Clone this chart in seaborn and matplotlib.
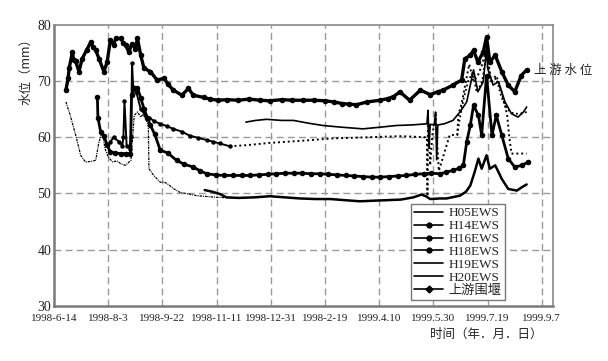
import matplotlib
matplotlib.use("Agg")
import matplotlib.pyplot as plt
from matplotlib.lines import Line2D
import seaborn as sns
import pandas as pd

# ---- data (x = days since 1998-06-14, y = water level) ----
tick_days = [0, 50, 100, 150, 200, 250, 300, 350, 400, 450]
tick_labels = ["1998-6-14", "1998-8-3", "1998-9-22", "1998-11-11", "1998-12-31",
               "1998-2-19", "1999.4.10", "1999.5.30", "1999.7.19", "1999.9.7"]
y_ticks = [30, 40, 50, 60, 70, 80]

legend_labels = ["H05EWS", "H14EWS", "H16EWS", "H18EWS", "H19EWS", "H20EWS", "上游围堰"]

# 上游围堰
A_days = [11, 13, 14, 17, 18, 20, 23, 26, 30, 34,
          36, 38.5, 41.5, 46, 49, 52, 55, 57, 61.5, 64,
          66, 69, 72, 75, 77, 80, 83, 89, 95, 101.5,
          105, 110, 118, 124, 128.5, 138, 144, 151, 160, 170,
          180, 190, 199, 210, 220, 230, 240, 250, 258, 266,
          272, 279, 289, 301, 308, 313, 319, 328, 338, 347,
          354, 359, 368, 376, 379, 384, 387, 391, 396, 399,
          402, 407, 413, 419, 425, 431, 436]
A_vals = [68.4, 70.5, 72.3, 75.2, 73.8, 73.5, 71.7, 74.0, 75.5, 77.0,
          76.0, 75.5, 74.0, 71.7, 73.4, 77.3, 76.5, 77.6, 77.6, 76.8,
          76.4, 75.2, 76.7, 75.8, 77.6, 74.6, 72.3, 71.7, 70.2, 70.5,
          69.5, 68.4, 67.5, 68.7, 67.5, 67.1, 66.8, 66.6, 66.7, 66.6,
          66.8, 66.6, 66.5, 66.7, 66.6, 66.6, 66.6, 66.5, 66.3, 66.0,
          65.9, 65.8, 66.3, 66.6, 66.9, 67.2, 68.1, 66.6, 68.4, 67.6,
          68.1, 68.4, 69.3, 70.2, 74.0, 74.6, 75.5, 73.4, 75.2, 77.9,
          73.4, 74.6, 71.7, 69.3, 68.1, 71.0, 72.0]

# H19EWS
B_days = [177, 186, 196, 210, 221, 235, 248, 265, 285, 301,
          316, 330, 344, 345, 346, 347, 351, 352, 353, 354,
          360, 368, 374.5, 380.7, 387, 391, 396, 399, 400, 405,
          410, 416, 422, 428, 433, 436]
B_vals = [62.7, 63.0, 63.2, 63.0, 63.0, 62.5, 62.1, 61.8, 61.5, 61.8,
          62.1, 62.2, 62.4, 64.8, 58.0, 62.3, 62.2, 64.5, 56.0, 62.2,
          62.4, 63.0, 64.5, 66.3, 72.0, 68.1, 69.9, 76.0, 72.3, 69.3,
          69.9, 66.3, 64.2, 63.6, 64.5, 65.4]

# H14EWS
C_days = [52, 55, 60, 63, 64, 65, 67, 70, 71, 72,
          73, 76, 80, 84, 88, 92, 98, 104, 110, 118,
          125, 133, 141, 147, 153, 162, 178, 199, 230, 257,
          290, 319, 344, 344.5, 345, 347, 349, 352, 355, 365,
          372, 373, 376, 379, 383, 387, 391, 395, 399, 403,
          408, 413, 418, 420, 422, 436]
C_vals = [59.2, 60.0, 59.2, 58.5, 60.0, 66.4, 58.5, 58.0, 60.0, 73.2,
          69.0, 68.0, 65.0, 64.0, 63.5, 62.9, 62.4, 62.0, 61.5, 61.0,
          60.3, 59.9, 59.5, 59.2, 58.9, 58.4, 58.6, 59.0, 59.4, 59.8,
          60.0, 60.2, 60.0, 49.5, 63.5, 55.0, 60.4, 64.0, 54.0, 60.4,
          60.4, 64.0, 66.0, 69.0, 73.0, 70.0, 71.0, 73.0, 76.0, 70.0,
          71.0, 68.0, 64.0, 60.0, 57.1, 57.1]

# H16EWS
D_days = [40, 40.5, 43, 46, 49, 52, 56, 61.5, 66, 70.5,
          71.5, 74, 77, 80, 83, 86, 89, 93, 98, 105,
          113, 120, 128.5, 135, 141, 149, 157, 165, 173, 181,
          189, 197, 205, 213, 221, 229, 237, 245, 253, 261,
          269, 277, 285, 293, 301, 309, 317, 325, 333, 341,
          348, 356, 362, 368, 374, 377.6, 380.7, 384, 387, 391.5,
          394.5, 399, 404, 408, 413, 419, 425, 431.5, 437.5]
D_vals = [67.2, 63.5, 61.0, 60.3, 58.6, 57.4, 57.2, 57.1, 57.1, 57.1,
          67.5, 68.8, 68.8, 67.0, 65.1, 63.5, 62.1, 60.5, 57.7, 57.2,
          55.9, 55.2, 54.7, 54.0, 53.5, 53.3, 53.2, 53.2, 53.2, 53.2,
          53.3, 53.4, 53.5, 53.6, 53.6, 53.6, 53.5, 53.5, 53.4, 53.3,
          53.2, 53.1, 53.0, 52.9, 52.9, 53.0, 53.1, 53.2, 53.4, 53.5,
          53.6, 53.5, 53.8, 54.1, 54.5, 55.0, 59.2, 62.1, 65.7, 63.9,
          60.4, 71.0, 60.4, 63.9, 60.4, 56.2, 54.7, 55.0, 55.6]

# H05EWS
E_days = [139, 146, 153, 159, 170, 185, 199, 213, 227, 241,
          255, 268, 282, 300.7, 320, 331.5, 339, 343, 347, 356,
          362, 374.5, 380, 384, 388, 391.5, 394.5, 399, 402, 407,
          413, 419, 427, 431.5, 436]
E_vals = [50.6, 50.3, 49.9, 49.3, 49.2, 49.3, 49.5, 49.3, 49.1, 49.0,
          49.0, 48.8, 48.6, 48.75, 48.9, 49.3, 49.8, 49.5, 49.0, 49.1,
          49.1, 49.6, 50.3, 51.4, 53.8, 56.2, 54.4, 56.8, 54.4, 55.0,
          52.6, 50.8, 50.5, 51.1, 51.6]

# H20EWS
F_days = [11, 15, 20, 24.6, 29, 34, 38.5, 41.5, 44.6, 47,
          50, 54, 58, 61.5, 66, 71, 74, 77, 80, 83,
          87, 87.6, 92, 98, 101.5, 104, 110.7, 116, 131.6, 144,
          151, 165, 175]
F_vals = [66.3, 63.9, 60.4, 56.8, 55.6, 55.7, 55.9, 59.2, 61.0, 58.0,
          56.5, 55.6, 55.8, 55.3, 55.0, 55.9, 63.9, 64.5, 63.6, 64.3,
          62.0, 54.4, 53.2, 52.0, 52.0, 51.8, 50.8, 50.2, 49.6, 49.4,
          49.3, 49.2, 49.1]

# H18EWS
G_days = [372, 374, 378, 382, 386, 390, 395, 399, 403, 408, 413, 418, 424, 430, 436]
G_vals = [60.4, 63.0, 67.0, 70.0, 71.5, 68.0, 70.0, 75.0, 70.0, 70.5, 67.0, 65.0, 64.2, 64.2, 64.5]

# ---- style ----
sns.set_style("white")
plt.rcParams["font.family"] = ["Liberation Serif", "Noto Sans CJK SC", "DejaVu Sans"]
plt.rcParams["axes.unicode_minus"] = False

fig = plt.figure(figsize=(6.08, 3.61), dpi=100)
ax = fig.add_axes([54 / 608, 1 - 305.7 / 361, (553 - 54) / 608, (305.7 - 25) / 361])

K = "black"
common = dict(ax=ax, color=K, estimator=None, sort=False, legend=False)

sns.lineplot(x=F_days, y=F_vals, linewidth=0.9, linestyle=(0, (2, 0.8, 0.8, 0.8)), **common)
sns.lineplot(x=E_days, y=E_vals, linewidth=1.8, **common)
sns.lineplot(x=C_days[:26], y=C_vals[:26], linewidth=1.4, marker="o", markersize=3.2,
             markeredgewidth=0, **common)
sns.lineplot(x=C_days[25:], y=C_vals[25:], linewidth=1.4, linestyle=(0, (1, 1.5)), **common)
sns.lineplot(x=G_days, y=G_vals, linewidth=1.3, linestyle=(0, (1, 1.5)), **common)
sns.lineplot(x=B_days, y=B_vals, linewidth=1.2, **common)
sns.lineplot(x=D_days, y=D_vals, linewidth=2.0, marker="o", markersize=4,
             markeredgewidth=0, **common)
sns.lineplot(x=A_days, y=A_vals, linewidth=2.4, marker="o", markersize=4,
             markeredgewidth=0, **common)

# axes
ax.set_xlim(0, 460.3)
ax.set_ylim(30, 80)
ax.set_xticks(tick_days)
ax.set_xticklabels(tick_labels, fontsize=8)
ax.set_yticks(y_ticks)
ax.set_yticklabels([str(v) for v in y_ticks], fontsize=10)
ax.tick_params(axis="both", length=0, colors="#222222")
ax.tick_params(axis="x", pad=6)
ax.tick_params(axis="y", pad=2)
ax.set_xlabel("")
ax.set_ylabel("")

for gy in [40, 50, 60, 70]:
    ax.axhline(gy, color="#9a9a9a", lw=1.0, ls=(0, (5, 3)), zorder=0)
for gx in tick_days[1:]:
    ax.axvline(gx, color="#9a9a9a", lw=1.0, ls=(0, (5, 3)), zorder=0)

for side in ["left", "bottom"]:
    ax.spines[side].set_color("#7a7a7a")
    ax.spines[side].set_linewidth(1.8)
for side in ["top", "right"]:
    ax.spines[side].set_color("#8a8a8a")
    ax.spines[side].set_linewidth(1.2)

# legend
handles = [
    Line2D([], [], color=K, lw=1.2),
    Line2D([], [], color=K, lw=1.2, marker="o", markersize=3.5),
    Line2D([], [], color=K, lw=1.2, marker="o", markersize=3.5),
    Line2D([], [], color=K, lw=1.2, marker="o", markersize=3.5),
    Line2D([], [], color=K, lw=1.2),
    Line2D([], [], color=K, lw=1.2),
    Line2D([], [], color=K, lw=1.2, marker="D", markersize=3.5),
]
leg = ax.legend(handles, legend_labels, loc="lower right",
                bbox_to_anchor=((505 - 54) / 499, (305.7 - 300) / 280.7),
                fontsize=9.5, frameon=True, fancybox=False, framealpha=1,
                edgecolor="#777777", handlelength=2.2, handletextpad=0.4,
                labelspacing=0.05, borderpad=0.25, borderaxespad=0)
leg.get_frame().set_linewidth(1.0)

# texts
fig.text(26 / 608, 1 - 68.5 / 361, "水位（mm）", rotation=90, ha="center", va="center",
         fontsize=9, family=["Noto Sans CJK SC", "DejaVu Sans"], color="#222222")
fig.text(486 / 608, 1 - 334 / 361, "时间（年．月．日）", ha="center", va="center",
         fontsize=9, family=["Noto Sans CJK SC", "DejaVu Sans"], color="#222222")
fig.text(563 / 608, 1 - 70 / 361, "上 游 水 位", ha="center", va="center",
         fontsize=9, family=["Noto Sans CJK SC", "DejaVu Sans"], color="#222222")

fig.savefig("out.png", dpi=100)
